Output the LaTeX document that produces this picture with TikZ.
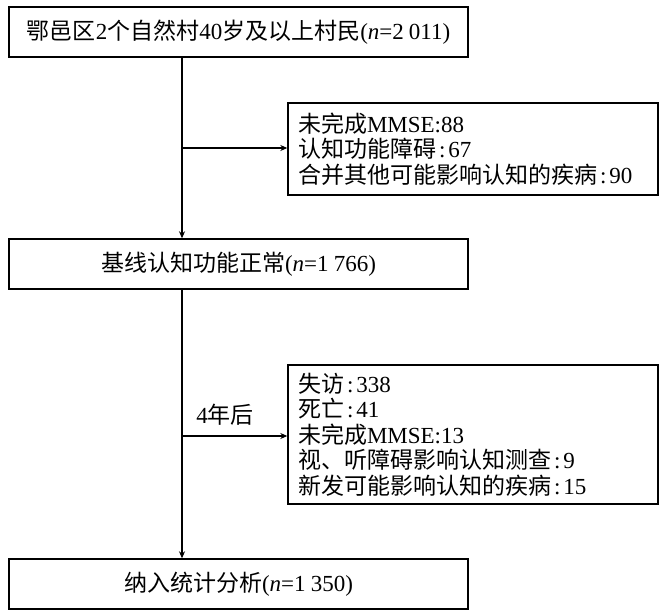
\documentclass[tikz,border=0pt]{standalone}
\usepackage{fontspec}
\setmainfont{Liberation Serif}
\newfontfamily\cjkf{Noto Sans CJK SC}
\usetikzlibrary{arrows.meta}
\newcommand\zh[1]{{\cjkf #1}}
\newcommand\cln{\hspace{3pt}:\hspace{3pt}}
\tikzset{
  box/.style={draw, line width=1.4pt, inner sep=0pt, font=\fontsize{23}{25.5}\selectfont},
  listbox/.style={box, align=left, text width=350pt, inner xsep=10pt, inner ysep=0pt},
  conn/.style={line width=1.2pt},
  arr/.style={conn, -{Stealth[length=7pt,width=6pt]}},
}
\begin{document}
\begin{tikzpicture}[x=1pt,y=-1pt]
\useasboundingbox (0,0) rectangle (663,612);
\node[box, minimum width=459pt, minimum height=50pt] (b1) at (238.5,32)
  {\zh{鄂邑区}2\zh{个自然村}40\zh{岁及以上村民}(\textit{n}=2\hspace{0.22em}011)};
\node[listbox, minimum height=92pt] (b2) at (473,149)
  {\zh{未完成}MMSE:88\\ \zh{认知功能障碍}\cln 67\\ \zh{合并其他可能影响认知的疾病}\cln 90};
\node[box, minimum width=459pt, minimum height=50pt] (b3) at (238.5,264)
  {\zh{基线认知功能正常}(\textit{n}=1\hspace{0.22em}766)};
\node[listbox, minimum height=139pt] (b4) at (473,434.5)
  {\zh{失访}\cln 338\\ \zh{死亡}\cln 41\\ \zh{未完成}MMSE:13\\ \zh{视、听障碍影响认知测查}\cln 9\\ \zh{新发可能影响认知的疾病}\cln 15};
\node[box, minimum width=459pt, minimum height=50pt] (b5) at (238.5,584)
  {\zh{纳入统计分析}(\textit{n}=1\hspace{0.22em}350)};
\coordinate (j1) at (182,148);
\coordinate (j2) at (182,436);
\draw[arr] (b1.south -| j1) -- (b3.north -| j1);
\draw[arr] (j1) -- (j1 -| b2.west);
\draw[arr] (b3.south -| j2) -- (b5.north -| j2);
\draw[arr] (j2) -- (j2 -| b4.west);
\node[font=\fontsize{23}{25}\selectfont] (lbl) at (225,415) {4\zh{年后}};
\end{tikzpicture}
\end{document}
